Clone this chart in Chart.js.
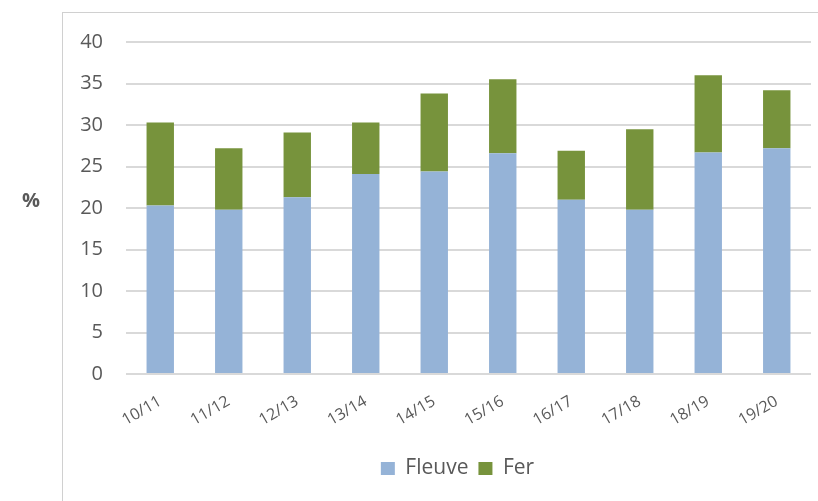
<!DOCTYPE html>
<html>
<head>
<meta charset="utf-8">
<script src="https://cdn.jsdelivr.net/npm/chart.js@4/dist/chart.umd.min.js"></script>
<style>
  html, body { margin: 0; padding: 0; background: #fff; }
  #wrap { position: relative; width: 818px; height: 501px; }
  #frame { position: absolute; left: 62px; top: 12px; right: 0; bottom: 0;
           border-left: 1px solid #d0d0d0; border-top: 1px solid #d0d0d0; }
  #chart { position: absolute; left: 0; top: 0; }
</style>
</head>
<body>
<div id="wrap">
  <div id="frame"></div>
  <canvas id="chart" width="818" height="501"></canvas>
</div>
<script>
// Saisons et valeurs (en %)
const seasons = ['10/11', '11/12', '12/13', '13/14', '14/15', '15/16', '16/17', '17/18', '18/19', '19/20'];
const fleuve = [20.3, 19.8, 21.3, 24.1, 24.4, 26.6, 21.0, 19.8, 26.7, 27.2];
const fer = [10.0, 7.4, 7.8, 6.2, 9.4, 8.9, 5.9, 9.7, 9.3, 7.0];
const yTicks = [0, 5, 10, 15, 20, 25, 30, 35, 40];

const FONT = "'Open Sans', 'Noto Sans', sans-serif";
const TEXT = '#595959';

// "%" horizontal à gauche + légende centrée sur la zone du graphique
const extras = {
  id: 'extras',
  afterLayout(chart) {
    const shift = 52;
    chart.legend.left += shift;
    chart.legend.right += shift;
  },
  afterDraw(chart) {
    const ctx = chart.ctx;
    ctx.save();
    ctx.font = 'bold 20px ' + FONT;
    ctx.fillStyle = TEXT;
    ctx.textAlign = 'center';
    ctx.textBaseline = 'middle';
    ctx.fillText('%', 31, 201);
    ctx.restore();
  }
};

new Chart(document.getElementById('chart').getContext('2d'), {
  type: 'bar',
  data: {
    labels: seasons,
    datasets: [
      { label: 'Fleuve', data: fleuve, backgroundColor: '#95b3d7', borderWidth: 0 },
      { label: 'Fer', data: fer, backgroundColor: '#77933c', borderWidth: 0 }
    ]
  },
  options: {
    responsive: false,
    animation: false,
    devicePixelRatio: 1,
    layout: { padding: { left: 0, right: 7, top: 42, bottom: 12 } },
    datasets: { bar: { barPercentage: 0.8, categoryPercentage: 0.5 } },
    plugins: {
      tooltip: { enabled: false },
      legend: {
        position: 'bottom',
        labels: {
          color: TEXT,
          font: { family: FONT, size: 21 },
          boxWidth: 14,
          boxHeight: 13,
          padding: 10
        }
      }
    },
    scales: {
      x: {
        stacked: true,
        grid: { display: false },
        border: { display: false },
        ticks: {
          color: TEXT,
          font: { family: FONT, size: 16 },
          maxRotation: 30,
          minRotation: 30,
          padding: 10
        },
        afterFit(scale) { scale.height = 74; }
      },
      y: {
        stacked: true,
        min: 0,
        max: 40,
        afterBuildTicks(scale) { scale.ticks = yTicks.map(v => ({ value: v })); },
        grid: { color: '#d9d9d9', lineWidth: 2, drawTicks: false },
        border: { display: false },
        ticks: {
          color: TEXT,
          font: { family: FONT, size: 20 },
          padding: 23
        },
        afterFit(scale) { scale.width = 126; }
      }
    }
  },
  plugins: [extras]
});
</script>
</body>
</html>
